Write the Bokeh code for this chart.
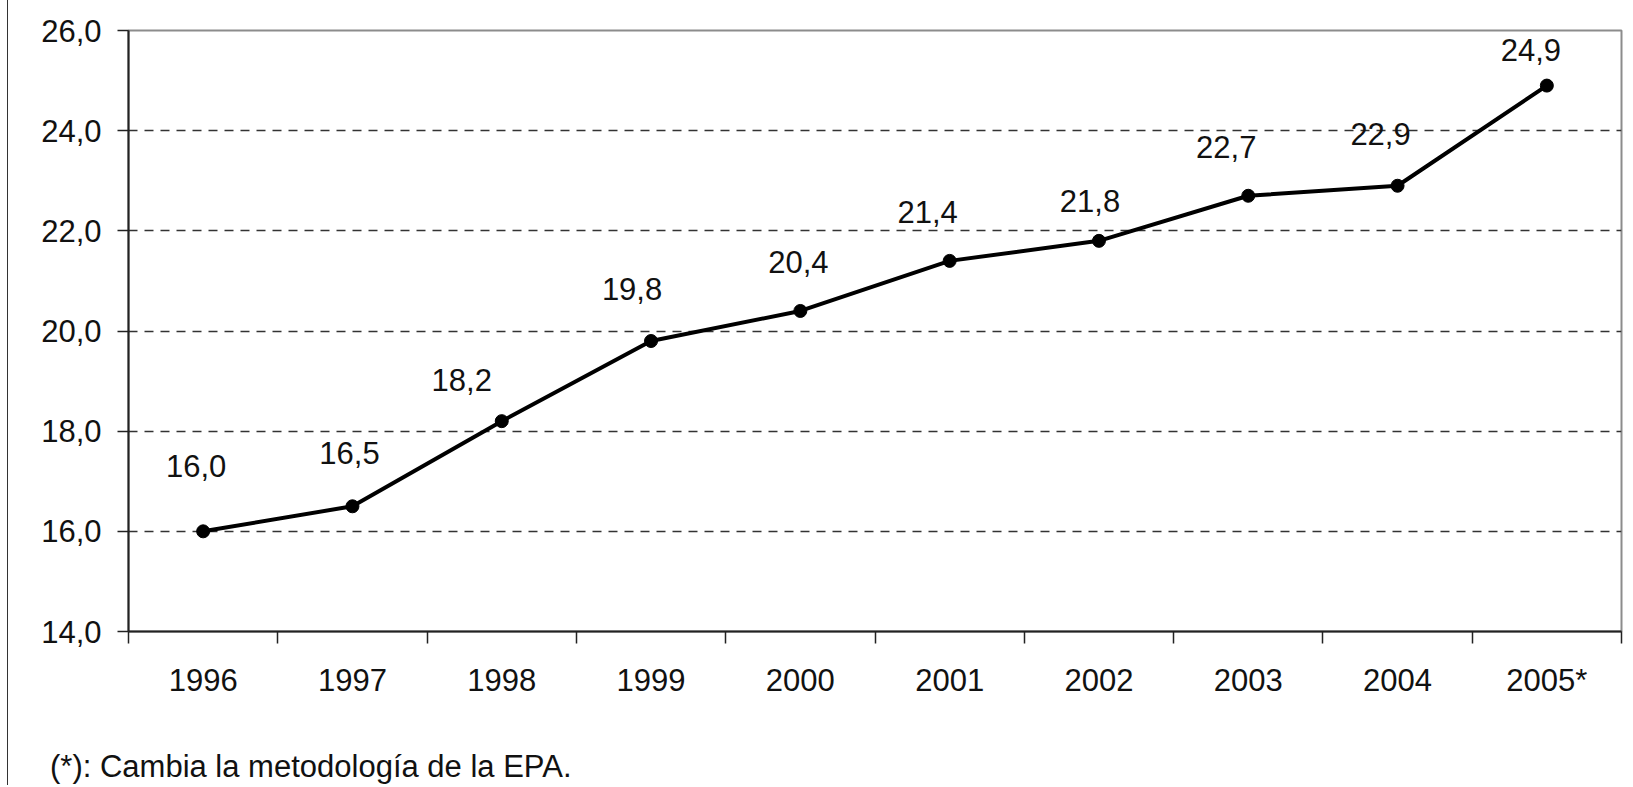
from bokeh.plotting import figure
from bokeh.models import Range1d, FixedTicker, Div
from bokeh.layouts import column
from bokeh.embed import file_html
from bokeh.resources import INLINE
from bokeh.core.properties import value

# ---- data ----
years = ["1996", "1997", "1998", "1999", "2000", "2001", "2002", "2003", "2004", "2005*"]
rates = [16.0, 16.5, 18.2, 19.8, 20.4, 21.4, 21.8, 22.7, 22.9, 24.9]
y_ticks = [14, 16, 18, 20, 22, 24, 26]
footnote = "(*): Cambia la metodología de la EPA."

# label placement (pixel offsets relative to each point)
label_dx = [-7, -3, -40, -19, -2, -22, -9, -22, -17, -16]
label_dy = [-65, -53, -41, -52, -49, -49, -40, -49, -52, -36]

FONT = "Liberation Sans"

def es(v):
    return f"{v:.1f}".replace(".", ",")

xs = [i + 0.5 for i in range(len(years))]

p = figure(width=1617, height=703, output_backend="svg", toolbar_location=None,
           x_range=Range1d(0, len(years)), y_range=Range1d(14, 26),
           min_border_left=120, min_border_top=30, min_border_right=4, min_border_bottom=72)

p.outline_line_color = "#8c8c8c"
p.outline_line_width = 2
p.background_fill_color = "white"
p.border_fill_color = "white"

# grid
p.xgrid.visible = False
p.ygrid.ticker = FixedTicker(ticks=y_ticks[1:-1])
p.ygrid.grid_line_color = "#333333"
p.ygrid.grid_line_dash = "9 7"
p.ygrid.grid_line_width = 1.5

# y axis
p.yaxis.ticker = FixedTicker(ticks=y_ticks)
p.yaxis.major_label_overrides = {t: es(t) for t in y_ticks}
p.yaxis.axis_line_color = "#222222"
p.yaxis.axis_line_width = 2
p.yaxis.major_tick_out = 11
p.yaxis.major_tick_in = 0
p.yaxis.major_tick_line_color = "#222222"
p.yaxis.major_tick_line_width = 1.5
p.yaxis.minor_tick_line_color = None
p.yaxis.major_label_standoff = 16
p.yaxis.major_label_text_font = FONT
p.yaxis.major_label_text_font_size = "31px"
p.yaxis.major_label_text_color = "#111111"

# x axis: labels at category centres, ticks at boundaries
p.xaxis.ticker = FixedTicker(ticks=xs, minor_ticks=list(range(len(years) + 1)))
p.xaxis.major_label_overrides = {x: y for x, y in zip(xs, years)}
p.xaxis.axis_line_color = "#222222"
p.xaxis.axis_line_width = 2
p.xaxis.major_tick_out = 0
p.xaxis.major_tick_in = 0
p.xaxis.minor_tick_out = 12
p.xaxis.minor_tick_in = 0
p.xaxis.minor_tick_line_color = "#222222"
p.xaxis.minor_tick_line_width = 1.5
p.xaxis.major_label_standoff = 19
p.xaxis.major_label_text_font = FONT
p.xaxis.major_label_text_font_size = "31px"
p.xaxis.major_label_text_color = "#111111"

# series
p.line(xs, rates, line_color="black", line_width=4)
p.scatter(xs, rates, size=13, fill_color="black", line_color="black")

p.text(xs, rates, text=[es(v) for v in rates], x_offset=label_dx, y_offset=label_dy,
       text_align="center", text_baseline="middle", text_font=value(FONT),
       text_font_size="31px", text_color="#111111")

note = Div(text=footnote, width=900, height=36, margin=(46, 0, 0, 42),
           styles={"font-family": FONT, "font-size": "31px", "color": "#111111",
                   "line-height": "1.15", "white-space": "nowrap"})

layout = column(p, note, spacing=0,
                styles={"margin-left": "7px", "border-left": "1.5px solid #333"})

open("out.html", "w").write(file_html(layout, INLINE))
